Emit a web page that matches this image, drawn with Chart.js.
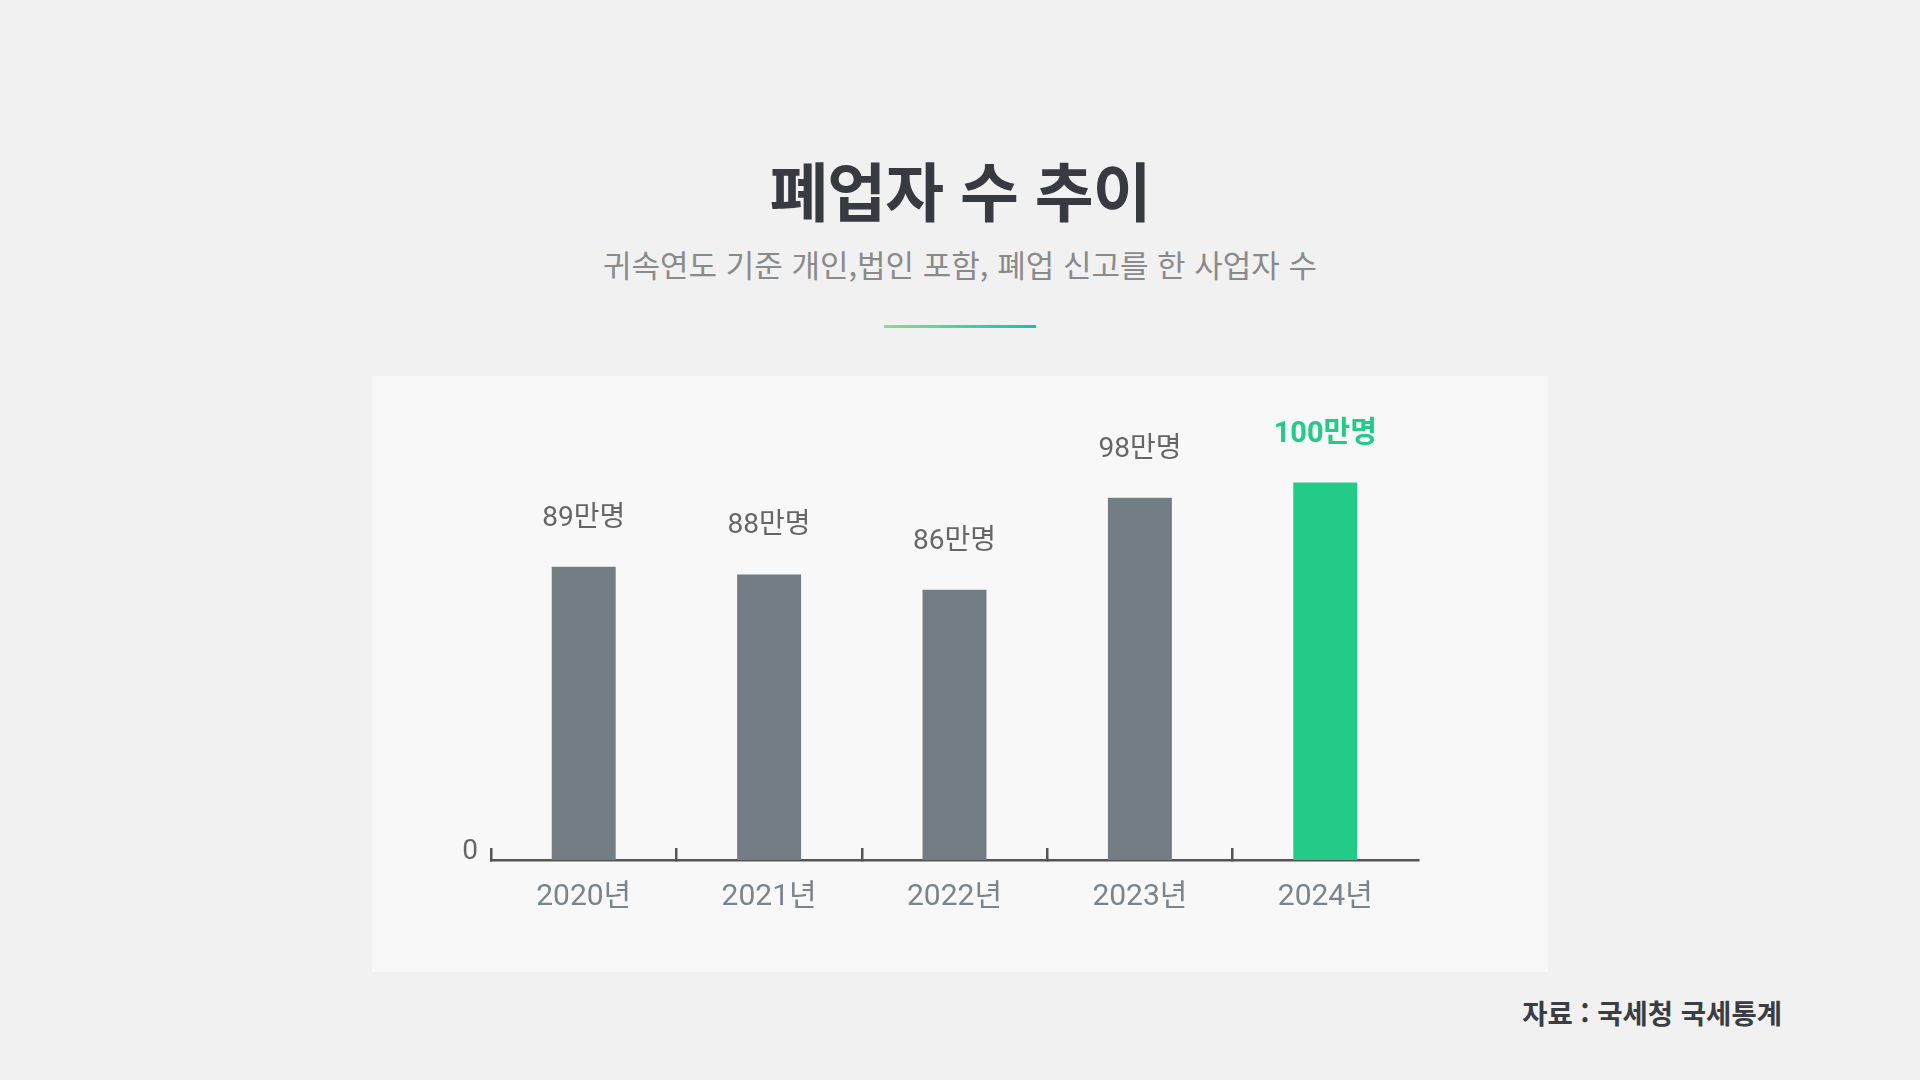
<!DOCTYPE html>
<html lang="ko">
<head>
<meta charset="utf-8">
<title>폐업자 수 추이</title>
<script src="https://cdn.jsdelivr.net/npm/chart.js@4.4.1/dist/chart.umd.min.js"></script>
<style>
    html, body {
        margin: 0;
        padding: 0;
        width: 1920px;
        height: 1080px;
        background: #f1f1f1;
        overflow: hidden;
        font-family: Roboto, 'Noto Sans CJK KR', sans-serif;
    }
    .title {
        position: absolute;
        left: 0;
        width: 1920px;
        top: 156px;
        text-align: center;
        font-family: 'Noto Sans CJK KR', sans-serif;
        font-weight: 700;
        font-size: 64px;
        line-height: 64px;
        color: #373a40;
        letter-spacing: -1px;
    }
    .subtitle {
        position: absolute;
        left: 0;
        width: 1920px;
        top: 248px;
        text-align: center;
        font-family: 'Noto Sans CJK KR', sans-serif;
        font-size: 31px;
        line-height: 31px;
        color: #8a8a8a;
    }
    .divider {
        position: absolute;
        left: 884px;
        top: 325px;
        width: 152px;
        height: 3px;
        background: linear-gradient(90deg, #84e378, #00c9bf);
    }
    .panel {
        position: absolute;
        left: 372px;
        top: 376px;
        width: 1176px;
        height: 596px;
        background: #f8f8f8;
    }
    .source {
        position: absolute;
        right: 138px;
        top: 998px;
        font-family: 'Noto Sans CJK KR', sans-serif;
        font-weight: 700;
        font-size: 27.5px;
        line-height: 28px;
        color: #3a3d44;
    }
</style>
</head>
<body>
<div class="title">폐업자 수 추이</div>
<div class="subtitle">귀속연도 기준 개인,법인 포함, 폐업 신고를 한 사업자 수</div>
<div class="divider"></div>
<div class="panel"><canvas id="closureChart" width="1176" height="596"></canvas></div>
<div class="source">자료 : 국세청 국세통계</div>

<script>
// 폐업자 수 (만명)
const years = ['2020년', '2021년', '2022년', '2023년', '2024년'];
const closures = [89, 88, 86, 98, 100];
const highlightIndex = 4;
const yTickLabels = ['0'];

const barGray = '#737d84';
const barGreen = '#22cc88';
const axisColor = '#555555';

// value labels above each bar
const valueLabels = {
    id: 'valueLabels',
    afterDatasetsDraw(chart) {
        const ctx = chart.ctx;
        const meta = chart.getDatasetMeta(0);
        ctx.save();
        ctx.textAlign = 'center';
        ctx.textBaseline = 'middle';
        meta.data.forEach((bar, i) => {
            if (i === highlightIndex) {
                ctx.fillStyle = barGreen;
                ctx.font = "bold 29px Roboto, 'Noto Sans CJK KR', sans-serif";
            } else {
                ctx.fillStyle = '#666666';
                ctx.font = "28px Roboto, 'Noto Sans CJK KR', sans-serif";
            }
            ctx.fillText(closures[i] + '만명', bar.x, bar.y - 48);
        });
        ctx.restore();
    }
};

// tick marks between categories only, none at the right end
const tickMarkColor = (c) => c.tick ? axisColor : 'rgba(0,0,0,0)';

const chartCtx = document.getElementById('closureChart').getContext('2d');
const closureChart = new Chart(chartCtx, {
    type: 'bar',
    data: {
        labels: years,
        datasets: [{
            data: closures,
            backgroundColor: closures.map((v, i) => i === highlightIndex ? barGreen : barGray),
            categoryPercentage: 1,
            barPercentage: 0.345
        }]
    },
    options: {
        responsive: false,
        animation: false,
        layout: {
            padding: { top: 30, right: 130, bottom: 0, left: 0 }
        },
        plugins: {
            legend: { display: false },
            tooltip: { enabled: false }
        },
        scales: {
            x: {
                grid: {
                    offset: true,
                    drawOnChartArea: false,
                    tickLength: -12,
                    lineWidth: 2.5,
                    color: tickMarkColor,
                    tickColor: tickMarkColor
                },
                border: { color: axisColor, width: 2.5 },
                ticks: {
                    color: '#79848b',
                    padding: 31,
                    font: { family: "Roboto, 'Noto Sans CJK KR', sans-serif", size: 30 }
                },
                afterFit(scale) { scale.height = 112; }
            },
            y: {
                min: 50.7,
                max: 110,
                grid: { display: false, drawTicks: false },
                border: { display: false },
                afterBuildTicks(scale) {
                    scale.ticks = [{ value: scale.min }];
                },
                ticks: {
                    padding: 13,
                    labelOffset: -8,
                    color: '#666666',
                    font: { family: "Roboto, 'Noto Sans CJK KR', sans-serif", size: 28 },
                    callback: (v, i) => yTickLabels[i]
                },
                afterFit(scale) { scale.width = 119; }
            }
        }
    },
    plugins: [valueLabels]
});
</script>
</body>
</html>
